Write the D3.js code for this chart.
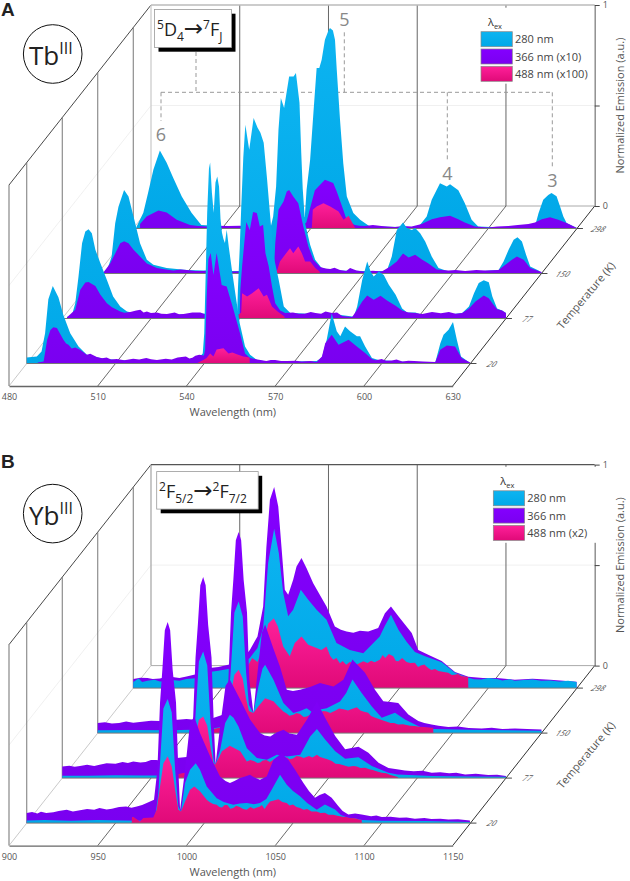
<!DOCTYPE html>
<html lang="en">
<head>
<meta charset="UTF-8">
<title>Tb and Yb emission</title>
<script src="https://d3js.org/d3.v7.min.js"></script>
<style>
  html, body { margin: 0; padding: 0; background: #fff; }
  svg { display: block; font-family: "Open Sans", sans-serif; }
</style>
</head>
<body>
<svg width="630" height="881"></svg>
<script>
// temperatures, back row first
const temps = ["298", "150", "77", "20"];

const tbTicks = [480, 510, 540, 570, 600, 630];
const ybTicks = [900, 950, 1000, 1050, 1100, 1150];

// Tb panel: [wavelength, normalized emission]
const tb20_280 = [[480,.03],[483.4,.035],[485,.06],[486.2,.15],[487.3,.32],[488.8,.386],[490.7,.33],[492.4,.24],[494.7,.15],[497.5,.085],[500.3,.043],[504.8,.027],[510.4,.018],[520,.012],[530,.015],[535,.02],[538,.025],[539.5,.05],[540,.15],[540.5,.45],[541,.75],[541.6,.97],[542,1],[542.6,.85],[543.2,.75],[543.8,.9],[544.4,.93],[545,.88],[545.5,.72],[546,.65],[546.5,.62],[547,.6],[547.6,.665],[548.3,.58],[549.5,.45],[550.5,.35],[552,.2],[553.8,.085],[555.5,.043],[557.8,.018],[560,.012],[570,.01],[578,.012],[579.8,.03],[581.4,.118],[583.1,.25],[584.8,.16],[586,.135],[587.6,.184],[589.3,.16],[591.6,.135],[592.7,.135],[594.4,.085],[596.7,.027],[598.9,.018],[610,.006],[618.1,.005],[619.8,.1],[620.9,.143],[622.6,.168],[624.1,.206],[625.4,.118],[626.8,.035],[629.9,.002]];
const tb20_366 = [[483.7,.005],[485.7,.01],[486.9,.118],[488,.167],[489,.18],[490.2,.176],[492.4,.118],[493.3,.1],[494.1,.093],[495.2,.075],[496.4,.08],[498,.068],[500.3,.043],[501.5,.048],[503.7,.032],[505.5,.026],[507,.03],[508.5,.02],[510.4,.022],[513,.016],[516,.024],[518,.02],[520.4,.027],[522,.021],[524,.018],[527,.024],[529,.02],[531,.03],[533.8,.035],[535,.025],[536,.028],[537,.038],[538.3,.043],[539.9,.04],[540.3,.07],[540.8,.32],[541.4,.52],[542.2,.55],[543.1,.44],[544.2,.55],[545.9,.39],[547.6,.383],[549.9,.267],[552.1,.15],[553.8,.05],[555.5,.027],[558,.02],[559.5,.016],[561,.013],[562.5,.018],[564,.018],[566,.012],[568,.012],[571,.014],[573,.01],[576,.012],[578,.008],[579.8,.035],[580.9,.101],[583.1,.143],[585.4,.093],[588.8,.118],[591.6,.085],[594.4,.052],[596.7,.022],[598,.016],[600,.022],[601.5,.014],[603.4,.015],[605,.02],[607,.01],[609,.014],[611,.012],[614,.01],[618.1,.007],[619.8,.068],[622,.09],[624.8,.085],[627,.027],[629.9,.005]];
const tb20_488 = [[537.5,0],[538,.005],[539.7,.018],[540.8,.027],[542,.05],[543.1,.035],[544.2,.07],[546.5,.076],[548.2,.05],[549.5,.055],[551,.046],[553.2,.035],[555.3,.03],[555.4,0]];

const tb77_280 = [[481.6,.008],[483.3,.018],[484.4,.076],[485.5,.209],[486.7,.375],[487.8,.433],[488.9,.444],[490,.424],[491.2,.342],[492.9,.275],[495.1,.192],[497.2,.11],[499.6,.06],[501.9,.035],[504.1,.027],[507.5,.018],[512,.02],[521,.02],[527,.025],[535,.02],[539.1,.01],[539.4,.15],[540,.35],[540.5,.55],[541.2,.8],[541.9,.964],[543.2,.84],[544.7,.997],[546,.95],[547,.924],[548.1,.874],[549.2,.7],[550.4,.49],[551.5,.308],[553.2,.19],[554.9,.06],[557.1,.027],[565.6,.022],[572.9,.02],[578,.01],[578.6,.01],[579.7,.06],[581.4,.192],[583.1,.284],[584.2,.235],[585.3,.209],[587,.234],[588.7,.217],[590.4,.168],[592.7,.118],[594.9,.05],[596.6,.03],[599.4,.03],[601.7,.018],[610.7,.02],[615.2,.027],[617.5,.06],[619.2,.126],[620.8,.176],[622.5,.19],[624.2,.18],[625.4,.11],[627,.05],[628.7,.04],[630,.027]];
const tb77_366 = [[481.6,.006],[484.4,.043],[486.1,.143],[487.8,.179],[488.9,.181],[491.2,.162],[492.9,.118],[495.1,.076],[496.8,.056],[499.6,.035],[501,.028],[503,.032],[505,.04],[506.4,.043],[507.5,.03],[508.6,.035],[510,.027],[512,.03],[513.5,.024],[515.4,.023],[518,.03],[519.5,.021],[521,.023],[524,.03],[526.7,.03],[528,.022],[530,.02],[532,.026],[534,.032],[536,.024],[538,.022],[540,.02],[540.2,.143],[540.8,.26],[542.2,.48],[543.4,.44],[544.5,.53],[545.8,.525],[546.8,.458],[547.9,.466],[548.7,.325],[549.8,.26],[550.9,.16],[552,.076],[553.7,.04],[555.4,.027],[558,.03],[560,.024],[562,.024],[564,.032],[565.6,.027],[567.5,.024],[569,.035],[571.2,.027],[572.9,.03],[574.6,.013],[578,.007],[579.7,.043],[581.4,.085],[583.1,.114],[585.3,.093],[587.6,.113],[589.8,.09],[592.7,.063],[594.9,.04],[597,.03],[599.4,.027],[601.7,.023],[605,.032],[608,.026],[610.7,.032],[613,.024],[615.2,.027],[617.5,.05],[619.7,.085],[622.5,.114],[624.2,.101],[625.4,.076],[627,.046],[628.7,.04],[630,.027]];
const tb77_488 = [[538,0],[539,.01],[540.5,.03],[540.8,.126],[542.5,.11],[544.2,.126],[546.4,.15],[548.1,.11],[549.2,.118],[550.9,.06],[552.8,.035],[555.1,.01],[555.2,0]];

const tb150_280 = [[481.9,.005],[483,.01],[484.7,.085],[485.9,.25],[487,.332],[488.9,.416],[490.4,.383],[492.1,.283],[494.3,.15],[496.6,.068],[498.8,.043],[503.3,.027],[510.1,.018],[515.7,.015],[525,.012],[535,.012],[539.3,.284],[540.3,.433],[541.1,.715],[541.9,.873],[543,.823],[544.7,.98],[546.2,.98],[547,.997],[548.2,.85],[548.8,.6],[549.3,.42],[550.1,.25],[551.8,.143],[553.5,.068],[555.7,.027],[560,.015],[570,.012],[577.7,.013],[579.4,.085],[581.1,.217],[583.2,.254],[584.5,.226],[586.2,.217],[587.3,.226],[589,.2],[590.7,.159],[592.9,.085],[595.2,.027],[598.6,.01],[605,.008],[615.5,.018],[617.2,.06],[618.9,.118],[620.6,.168],[621.9,.18],[623.4,.159],[624.8,.093],[626.2,.035],[629,.015],[630,.005]];
const tb150_366 = [[481.9,.005],[484.2,.05],[485.9,.1],[487.6,.15],[488.9,.16],[490.4,.15],[492.1,.118],[494.3,.085],[496.6,.05],[500,.027],[503,.02],[505.6,.015],[508,.02],[510.1,.018],[513,.012],[515.7,.013],[519,.017],[522,.015],[526,.01],[530,.012],[533,.016],[536,.014],[539.6,.018],[540,.15],[541.1,.317],[542.8,.358],[543.9,.408],[544.7,.416],[546.1,.383],[547.8,.35],[549.5,.234],[551.2,.134],[552.9,.068],[555.2,.032],[557,.025],[558.6,.022],[560,.028],[561.9,.018],[564,.012],[565.3,.027],[567.5,.015],[569.8,.01],[573,.014],[576,.01],[578.9,.035],[581.1,.06],[583.2,.1],[585.1,.08],[587.3,.093],[589.6,.07],[591.8,.05],[594.6,.02],[598.6,.015],[601,.018],[604.2,.013],[608,.017],[611,.015],[615.5,.018],[617.8,.043],[620,.068],[621.7,.085],[624,.068],[626.2,.027],[630,.008]];
const tb150_488 = [[539,0],[540.7,.018],[541.6,.06],[543.3,.093],[545,.126],[546.1,.101],[547.8,.134],[549,.101],[550.1,.06],[551.8,.06],[553.5,.027],[555,.01],[555.1,0]];

const tb298_280 = [[481,.005],[483.4,.078],[485,.177],[486.8,.292],[489,.388],[491.3,.327],[493.5,.252],[496.4,.159],[499.7,.078],[503,.018],[510,.012],[525,.01],[535,.012],[538,.06],[538.6,.193],[539.8,.342],[540.9,.574],[542,.798],[542.9,.798],[543.7,.839],[544.8,.939],[546,.985],[546.5,.997],[547.5,.985],[548.2,.939],[548.8,.79],[549.9,.541],[551,.325],[552.2,.159],[554.4,.077],[556.7,.043],[560,.01],[570,.008],[575,.006],[576.9,.018],[579.2,.06],[580.9,.143],[583.7,.225],[586,.209],[587.1,.22],[589.9,.19],[592.1,.126],[594.4,.043],[596.6,.01],[605,.005],[615.8,.01],[617,.076],[618.6,.143],[620.3,.167],[621.4,.176],[623.1,.16],[624.3,.11],[625.4,.06],[626.5,.027],[630,.003]];
const tb298_366 = [[482.3,.023],[484.5,.06],[488.5,.09],[491.3,.08],[494.7,.043],[499.2,.018],[502,.012],[505,.01],[508,.014],[512,.012],[516,.014],[520,.008],[525,.012],[530,.01],[534,.014],[537,.01],[538.5,.03],[541.4,.19],[544.8,.242],[547.6,.226],[548.8,.184],[551,.093],[552.2,.04],[554.9,.018],[556.5,.014],[558.3,.013],[561,.017],[563.9,.013],[566,.01],[568.5,.007],[571,.012],[574.1,.01],[577.5,.023],[580.9,.046],[583.7,.056],[587.1,.063],[589.9,.046],[592.1,.03],[595.5,.01],[600,.005],[603,.01],[606.8,.013],[610,.017],[613.6,.023],[615.8,.03],[618.1,.046],[620.9,.056],[623.7,.043],[626.5,.027],[630,.003]];
const tb298_488 = [[540.3,0],[540.4,.01],[540.7,.093],[542,.11],[544.3,.126],[546.6,.11],[549.4,.085],[551.1,.043],[552.8,.063],[555,.002],[555.1,0]];

// Yb panel
const yb20_280 = [[900,.013],[910,.015],[925,.012],[940,.015],[955,.013],[965,.012],[972.3,.025],[974.2,.15],[975.1,.3],[977,.57],[979.4,.617],[981.7,.55],[983.6,.265],[985.4,.083],[986.9,.058],[989.2,.199],[992,.265],[995.2,.298],[997.6,.265],[1001.4,.182],[1007,.124],[1011,.105],[1016.4,.091],[1020,.098],[1024,.1],[1028,.094],[1031.4,.1],[1035,.12],[1038,.166],[1042.7,.24],[1046.5,.191],[1050,.16],[1054,.133],[1058,.1],[1063.4,.066],[1068,.093],[1073.7,.068],[1077,.04],[1081,.027],[1085,.024],[1088.7,.015],[1100,.012],[1125,.01],[1149.7,.005]];
const yb20_366 = [[900,.05],[903,.055],[906,.048],[908,.056],[911,.05],[915,.054],[918,.06],[922.5,.066],[926,.058],[930,.064],[934,.07],[938,.066],[941,.075],[945,.068],[948,.071],[952,.08],[956,.083],[959,.076],[962,.082],[965,.09],[967.6,.1],[971.7,.116],[973.6,.265],[975.1,.6],[976.4,.763],[977.8,.96],[979.4,1],[980.8,.96],[982.2,.763],[984.1,.6],[985.4,.265],[986.4,.066],[989.2,.265],[992,.497],[994.4,.53],[997.6,.448],[1003.3,.332],[1008.9,.232],[1012,.21],[1014.5,.199],[1017,.21],[1020.2,.224],[1023,.232],[1025.8,.241],[1028,.228],[1031.4,.216],[1035.2,.232],[1039,.315],[1043.6,.348],[1047.4,.315],[1051.2,.265],[1055.9,.199],[1059,.16],[1062.4,.126],[1065,.14],[1068,.15],[1071.8,.126],[1075.5,.085],[1078,.06],[1081.2,.043],[1085,.048],[1088.7,.043],[1094,.034],[1097,.038],[1100,.03],[1105,.032],[1110,.026],[1114,.028],[1118.7,.022],[1124,.025],[1128,.021],[1133,.022],[1137.5,.018],[1143,.019],[1149.7,.013]];
const yb20_488 = [[959.1,0],[959.3,.03],[960.1,.03],[963.8,.008],[965.7,.025],[971.3,.028],[973.2,.066],[975.1,.182],[977,.298],[979.4,.332],[981.7,.282],[983.6,.166],[985.4,.066],[986.9,.058],[989.2,.108],[992,.166],[994.4,.182],[997.6,.158],[1001.4,.116],[1003,.105],[1005,.095],[1007,.091],[1008.5,.08],[1010,.078],[1011.5,.09],[1013,.09],[1014.7,.072],[1016.4,.075],[1018,.086],[1020,.08],[1022,.07],[1023.9,.066],[1026,.08],[1028,.072],[1031.4,.083],[1032.5,.09],[1034,.07],[1035.5,.09],[1037.1,.108],[1041.8,.119],[1044,.105],[1046.5,.1],[1048,.088],[1050,.092],[1052,.08],[1054,.075],[1056,.066],[1058,.07],[1060.5,.058],[1063.4,.058],[1065.5,.05],[1068,.052],[1070,.042],[1072.8,.041],[1075,.036],[1078,.032],[1080,.03],[1082.1,.025],[1085,.024],[1087.8,.017],[1088.7,.017],[1088.8,0]];

const yb77_280 = [[900,.012],[915,.012],[930,.014],[945,.013],[960,.013],[970,.02],[973,.06],[975,.3],[977,.58],[979.4,.63],[981.7,.56],[983.6,.27],[985.2,.1],[986.2,.066],[989,.141],[991.8,.274],[994.4,.315],[996.5,.3],[999.3,.257],[1004,.149],[1009.7,.1],[1015.3,.091],[1020.9,.116],[1026.6,.108],[1034.1,.116],[1039.7,.207],[1043.5,.244],[1048.1,.192],[1053.8,.134],[1059.4,.096],[1066.9,.104],[1074.4,.06],[1083.8,.027],[1089,.018],[1108.2,.01],[1130,.008],[1150,.007]];
const yb77_366 = [[900,.058],[904,.062],[907,.056],[910,.06],[914,.066],[918,.06],[921,.066],[925,.074],[930,.072],[934,.08],[937,.075],[940,.083],[944,.077],[947,.08],[950,.09],[953,.09],[957,.085],[960,.092],[964.6,.1],[970,.105],[972,.12],[973.6,.265],[975.1,.6],[976.4,.763],[977.8,.96],[979.4,1],[980.8,.96],[982.2,.763],[984.1,.6],[985.4,.265],[986.4,.07],[989,.26],[992,.46],[994.4,.49],[1000.3,.39],[1005.9,.29],[1011.5,.224],[1014,.212],[1017.2,.207],[1021,.228],[1024.7,.24],[1028,.222],[1032.2,.216],[1037.8,.29],[1043.5,.38],[1048.1,.3],[1053.8,.209],[1059.4,.143],[1063,.15],[1066.9,.156],[1072.5,.126],[1078.2,.076],[1083.8,.05],[1089.5,.043],[1093,.038],[1098,.034],[1103,.036],[1108.2,.027],[1113,.029],[1118,.024],[1122,.026],[1127,.018],[1133,.022],[1140,.015],[1145,.017],[1150,.01]];
const yb77_488 = [[959,0],[959.2,.02],[964,.01],[965.5,.02],[971,.03],[973,.07],[975,.2],[977,.29],[979.4,.307],[981.7,.26],[983.6,.15],[985.2,.075],[986.2,.066],[990,.133],[994.4,.161],[1000.3,.133],[1004,.083],[1006,.09],[1008,.085],[1010,.075],[1011.5,.078],[1013,.088],[1015,.09],[1017,.08],[1019,.091],[1021,.102],[1023,.1],[1025,.09],[1026.6,.104],[1028,.094],[1030,.098],[1032,.11],[1034.1,.108],[1036,.1],[1039,.11],[1041,.102],[1043.5,.116],[1045,.106],[1047,.1],[1049,.095],[1051.9,.085],[1054,.072],[1056,.07],[1058.5,.064],[1061.3,.056],[1064,.06],[1066,.058],[1068,.05],[1070.7,.051],[1073,.044],[1075,.04],[1077.5,.033],[1080,.027],[1082.5,.024],[1085,.015],[1089,.005],[1089.2,0]];

const yb150_280 = [[900,.014],[920,.016],[940,.014],[960,.018],[970,.03],[973,.07],[975,.32],[977,.6],[979.4,.655],[981.7,.58],[983.6,.3],[985.2,.14],[987.7,.1],[990.5,.23],[992.8,.32],[994.3,.34],[999,.265],[1004.6,.15],[1010.2,.1],[1014,.11],[1017.7,.124],[1021.5,.1],[1025.2,.118],[1029,.124],[1036.5,.157],[1040,.2],[1043.5,.267],[1048.7,.2],[1054.3,.134],[1060,.076],[1067.5,.101],[1073.1,.068],[1082.5,.027],[1089,.02],[1116,.015],[1150,.012]];
const yb150_366 = [[900,.05],[904,.054],[908,.048],[912,.05],[916,.058],[920,.052],[925,.056],[930,.062],[935,.06],[940,.068],[945,.066],[950,.07],[955,.066],[960,.072],[965,.075],[970,.09],[972,.11],[973.6,.265],[975.1,.6],[976.4,.763],[977.8,.96],[979.4,1],[980.8,.96],[982.2,.763],[984.1,.6],[985.4,.265],[987.7,.1],[990,.3],[992.5,.5],[994.3,.54],[999,.42],[1002.7,.33],[1006.5,.216],[1010,.21],[1014,.216],[1020,.23],[1025.2,.249],[1032.8,.232],[1038.4,.265],[1043.5,.366],[1050.6,.3],[1056.2,.216],[1060.9,.158],[1065,.155],[1069.3,.15],[1075,.093],[1080.6,.06],[1084,.05],[1088.1,.043],[1092,.036],[1097.5,.03],[1103,.033],[1109,.025],[1116.3,.023],[1122,.027],[1128,.021],[1135.1,.023],[1142,.02],[1150,.018]];
const yb150_488 = [[959,0],[959.2,.02],[965,.02],[971,.03],[973,.08],[975,.2],[977,.29],[979.4,.315],[981.7,.27],[983.6,.17],[985.2,.11],[987.7,.1],[990.5,.134],[994.3,.174],[999,.158],[1002,.13],[1004.6,.108],[1006.5,.098],[1008,.086],[1010.2,.091],[1012,.1],[1014,.095],[1016,.08],[1017.7,.083],[1020,.092],[1023,.095],[1025,.1],[1027,.11],[1029,.108],[1031,.1],[1034,.112],[1036,.122],[1038.4,.119],[1041,.112],[1043.5,.121],[1046,.128],[1048,.112],[1050,.106],[1052.4,.101],[1054,.085],[1056,.078],[1058,.072],[1060,.065],[1062.5,.058],[1065,.05],[1067,.05],[1069.3,.043],[1072,.044],[1074,.04],[1076,.036],[1078.7,.035],[1081,.032],[1084,.03],[1088.1,.027],[1089,.027],[1089.1,0]];

const yb298_280 = [[900,.03],[903,.048],[905,.03],[908,.036],[912,.042],[915,.033],[918,.034],[922,.04],[926,.036],[930,.045],[937,.05],[943,.08],[948,.086],[953.5,.095],[960,.11],[965.7,.15],[970,.2],[973.2,.3],[976,.622],[979.4,.793],[982,.672],[984.5,.473],[987.3,.357],[990.1,.39],[994.4,.489],[998.6,.44],[1003.3,.39],[1008.9,.34],[1014.5,.224],[1022,.19],[1029.6,.174],[1038.9,.257],[1041.8,.31],[1045.2,.365],[1049.4,.29],[1054,.23],[1058.7,.18],[1064.4,.158],[1073.8,.129],[1081.3,.076],[1088.8,.051],[1092,.044],[1096,.043],[1100,.05],[1105,.045],[1108,.038],[1112,.044],[1115,.036],[1120,.04],[1125,.043],[1130,.036],[1135,.038],[1140,.033],[1145,.036],[1149.8,.03]];
const yb298_366 = [[900,.045],[904,.052],[908,.05],[911,.045],[915,.048],[919,.056],[922,.055],[926,.05],[930,.058],[936,.07],[943,.1],[948,.105],[953.5,.116],[960,.13],[965.7,.19],[970,.257],[973.2,.406],[975,.7],[977,.937],[979.4,1],[981.7,.904],[983.5,.705],[985.4,.489],[987.3,.464],[990.1,.539],[992,.605],[994.8,.647],[997.6,.597],[1001.4,.522],[1005.1,.464],[1008.9,.406],[1013.6,.307],[1017,.29],[1020.2,.282],[1024,.275],[1027.7,.285],[1032.4,.282],[1038,.299],[1041.8,.373],[1045.2,.406],[1049.4,.357],[1056.9,.274],[1060.6,.19],[1066.2,.166],[1073.8,.135],[1081.3,.08],[1088.8,.056],[1097,.05],[1105,.05],[1115,.042],[1125,.047],[1135,.042],[1149.8,.032]];
const yb298_488 = [[959,0],[959.2,.03],[964,.1],[967,.15],[970,.13],[973,.2],[976,.32],[979.2,.348],[981.5,.307],[984.5,.207],[988.2,.158],[991,.224],[994.8,.257],[998.6,.216],[1003.3,.2],[1006,.19],[1008.9,.207],[1011,.16],[1012.7,.141],[1014.5,.15],[1016.4,.124],[1018,.135],[1020,.116],[1022,.13],[1024,.125],[1026,.118],[1029.6,.133],[1032,.125],[1034,.136],[1036,.128],[1038.9,.141],[1040.5,.165],[1042,.15],[1044,.17],[1046.5,.158],[1048,.135],[1049.4,.134],[1051.5,.15],[1054,.13],[1056,.125],[1058.7,.126],[1060.5,.105],[1062,.112],[1064,.118],[1066.2,.1],[1068,.09],[1070,.095],[1072,.085],[1075,.08],[1077.5,.076],[1079.5,.065],[1081,.066],[1083,.07],[1085,.06],[1088.7,.055],[1088.8,0]];

const tbSeries = {
  "20":  { c: tb20_280,  p: tb20_366,  m: tb20_488 },
  "77":  { c: tb77_280,  p: tb77_366,  m: tb77_488 },
  "150": { c: tb150_280, p: tb150_366, m: tb150_488 },
  "298": { c: tb298_280, p: tb298_366, m: tb298_488 }
};
const ybSeries = {
  "20":  { c: yb20_280,  p: yb20_366,  m: yb20_488 },
  "77":  { c: yb77_280,  p: yb77_366,  m: yb77_488 },
  "150": { c: yb150_280, p: yb150_366, m: yb150_488 },
  "298": { c: yb298_280, p: yb298_366, m: yb298_488 }
};

const tbLegend = ["280 nm", "366 nm (x10)", "488 nm (x100)"];
const ybLegend = ["280 nm", "366 nm", "488 nm (x2)"];

const svg = d3.select("svg");
const defs = svg.append("defs");

function gradient(id, top, bottom) {
  const g = defs.append("linearGradient").attr("id", id)
    .attr("x1", 0).attr("y1", 0).attr("x2", 0).attr("y2", 1);
  g.append("stop").attr("offset", 0).attr("stop-color", top);
  g.append("stop").attr("offset", 1).attr("stop-color", bottom);
}
gradient("gc", "#0DB4F1", "#00A8E8");
gradient("gp", "#8400FF", "#7A00F0");
gradient("gm", "#FF209A", "#E00A78");
const fills = { c: "url(#gc)", p: "url(#gp)", m: "url(#gm)" };

const textCol = "#555";

// geometry shared by both panels
const x0 = 9, x1 = 452.7, floorY = 386;
const depthX = 142, depthY = 180, wallH = 201;

function panel(opts) {
  const g = svg.append("g").attr("transform", `translate(0,${opts.top})`);
  const dom = d3.extent(opts.ticks);
  const x = d3.scaleLinear().domain(dom).range([x0, x1]);
  const zBand = d3.scaleBand().domain(temps).range([1, 0]);
  const z = t => zBand(t) + zBand.bandwidth() / 2;
  const backY = floorY - depthY;
  const y = d3.scaleLinear().domain([0, 1]).range([backY, backY - wallH]);
  const h = v => backY - y(v);
  const topY = y(1);
  const line = (a, b, c, d, col, w) => g.append("line")
    .attr("x1", a).attr("y1", b).attr("x2", c).attr("y2", d)
    .attr("stroke", col).attr("stroke-width", w);

  // mid level guides
  line(x0, floorY - wallH / 2, x0 + depthX, y(0.5), "#ececec", 0.8);
  line(x0 + depthX, y(0.5), x1 + depthX, y(0.5), "#ececec", 0.8);

  // floor
  line(x0, floorY, x0 + depthX, backY, "#bbb", 0.8);
  line(x0 + depthX, backY, x1 + depthX, backY, "#aaa", 1);
  opts.ticks.slice(1, -1).forEach(t => line(x(t), floorY, x(t) + depthX, backY, "#444", 0.8));
  line(x1, floorY, x1 + depthX, backY, "#333", 1);

  // left wall
  line(x0, floorY, x0, floorY - wallH, "#888", 1.2);
  line(x0, floorY - wallH, x0 + depthX, topY, "#333", 0.9);
  temps.forEach(t => {
    const px = x0 + z(t) * depthX, py = floorY - z(t) * depthY;
    line(px, py, px, py - wallH, "#777", 1);
  });

  // back wall
  line(x0 + depthX, backY, x0 + depthX, topY, opts.cornerCol, 1.3);
  opts.ticks.slice(1, -1).forEach(t => line(x(t) + depthX, backY, x(t) + depthX, topY, "#666", 1));
  line(x0 + depthX, topY, x1 + depthX, topY, opts.topCol, 1.3);

  // front axis
  const ax = g.append("g").attr("transform", `translate(0,${floorY})`)
    .call(d3.axisBottom(x).tickValues(opts.ticks).tickSize(0).tickPadding(8).tickFormat(d => d));
  ax.select(".domain").attr("stroke", "#666").attr("stroke-width", 1.4);
  ax.selectAll("text").attr("fill", textCol).attr("font-size", 9).attr("font-family", "Open Sans");

  // intensity axis on the back wall
  const ay = g.append("g").attr("transform", `translate(${x1 + depthX},0)`)
    .call(d3.axisRight(y).tickValues([0, 0.5, 1]).tickSize(5).tickSizeOuter(0).tickPadding(3)
      .tickFormat(v => v === 0.5 ? "" : v));
  ay.select(".domain").attr("stroke", "#888").attr("stroke-width", 1.4);
  ay.selectAll("line").attr("stroke", "#444");
  ay.selectAll("text").attr("fill", textCol).attr("font-size", 9).attr("font-family", "Open Sans");

  if (opts.extras) opts.extras(g);

  // ribbons, back to front
  const mark = (data, key, dx, base) => {
    const area = d3.area()
      .x(d => x(d[0]) + dx)
      .y0(base)
      .y1(d => base - h(d[1]));
    g.append("path").attr("d", area(data)).attr("fill", fills[key]);
  };
  temps.forEach(t => {
    const dx = z(t) * depthX, base = floorY - z(t) * depthY;
    opts.order.forEach(k => mark(opts.series[t][k], k, dx, base));
    line(x0 + dx, base, x1 + dx, base, "#777", 1);
    line(x1 + dx, base, x1 + dx + 6, base, "#333", 0.9);
    g.append("text")
      .attr("transform", `translate(${x1 + dx + 20},${base + 3}) skewX(-28)`)
      .attr("text-anchor", "middle")
      .attr("font-size", 8).attr("font-style", "italic").attr("fill", textCol)
      .text(t);
  });

  // titles
  g.append("text").attr("x", (x0 + x1) / 2 + 2).attr("y", floorY + 30)
    .attr("text-anchor", "middle").attr("font-size", 11).attr("fill", textCol)
    .text("Wavelength (nm)");
  g.append("text").attr("transform", `translate(624,${(topY + backY) / 2}) rotate(-90)`)
    .attr("text-anchor", "middle").attr("font-size", 11).attr("fill", textCol)
    .text("Normalized Emission (a.u.)");
  g.append("text").attr("transform", `translate(589,${floorY - 88}) rotate(-50)`)
    .attr("text-anchor", "middle").attr("font-size", 11).attr("fill", textCol)
    .text("Temperature (K)");

  // ion label
  g.append("circle").attr("cx", 52.7).attr("cy", 54).attr("r", 29.3)
    .attr("fill", "#fff").attr("stroke", "#111").attr("stroke-width", 1);
  const ion = g.append("text").attr("x", 29).attr("y", 65).attr("font-size", 26).attr("fill", "#222");
  ion.append("tspan").text(opts.ion);
  ion.append("tspan").attr("dy", -11).attr("font-size", 16).text("III");

  g.append("text").attr("x", 1).attr("y", opts.letterY)
    .attr("font-family", "Liberation Sans").attr("font-weight", "bold").attr("font-size", 19)
    .attr("fill", "#222").text(opts.letter);

  // legend
  const lx = opts.legendX, ly = opts.legendY;
  g.append("rect").attr("x", lx - 2).attr("y", ly - 24).attr("width", 112).attr("height", 76).attr("fill", "#fff");
  const lam = g.append("text").attr("x", lx + 7).attr("y", ly - 6).attr("font-size", 11).attr("fill", "#333");
  lam.append("tspan").text("λ");
  lam.append("tspan").attr("dy", 3).attr("font-size", 7.5).text("ex");
  ["c", "p", "m"].forEach((k, i) => {
    g.append("rect").attr("x", lx).attr("y", ly + i * 17.3).attr("width", 31.3).attr("height", 15)
      .attr("fill", fills[k]).attr("stroke", "#888").attr("stroke-width", 0.7);
    g.append("text").attr("x", lx + 34).attr("y", ly + i * 17.3 + 11.5)
      .attr("font-size", 11).attr("fill", "#444").text(opts.legend[i]);
  });
  return g;
}

// state label box with superscripts and subscripts
function stateBox(g, bx, by, bw, bh, parts, tx, ty) {
  g.append("rect").attr("x", bx + 4).attr("y", by + 4.2).attr("width", bw).attr("height", bh).attr("fill", "#000");
  g.append("rect").attr("x", bx).attr("y", by).attr("width", bw).attr("height", bh)
    .attr("fill", "#fff").attr("stroke", "#999").attr("stroke-width", 0.8);
  const t = g.append("text").attr("x", tx).attr("y", ty).attr("font-size", 18).attr("fill", "#222");
  let shift = 0;
  parts.forEach(([s, kind]) => {
    const want = kind === "sup" ? -7 : kind === "sub" ? 5 : 0;
    const sp = t.append("tspan").attr("dy", want - shift)
      .attr("font-size", kind === "arrow" ? 23 : kind ? 12 : 18).text(s);
    if (kind === "arrow") sp.attr("font-family", "DejaVu Sans");
    shift = want;
  });
}

// Tb panel annotations, behind the ribbons
const tbBandLabels = ["6", "5", "4", "3"];

function tbExtras(g) {
  const dash = (a, b, c, d) => g.append("line").attr("x1", a).attr("y1", b).attr("x2", c).attr("y2", d)
    .attr("stroke", "#999").attr("stroke-width", 1).attr("stroke-dasharray", "4,3");
  dash(161, 92.3, 553, 92.3);
  dash(196, 52, 196, 92.3);
  dash(161, 92.3, 161, 121);
  dash(344.3, 92.3, 344.3, 31);
  dash(447.3, 92.3, 447.3, 160);
  dash(552.3, 92.3, 552.3, 167);
  [[161, 141], [344.3, 26], [447.3, 180], [552.3, 187]].forEach((p, i) => {
    g.append("text").attr("x", p[0]).attr("y", p[1]).attr("text-anchor", "middle")
      .attr("font-size", 18).attr("fill", "#888").text(tbBandLabels[i]);
  });
}

const gA = panel({
  top: 0, ticks: tbTicks, series: tbSeries, order: ["c", "p", "m"], ion: "Tb", letter: "A", letterY: 16,
  legend: tbLegend, legendX: 481, legendY: 31.7, cornerCol: "#ccc", topCol: "#bbb", extras: tbExtras
});
stateBox(gA, 154.5, 9.5, 77, 38,
  [["5", "sup"], ["D", ""], ["4", "sub"], ["→", "arrow"], ["7", "sup"], ["F", ""], ["J", "sub"]], 157, 36);

const gB = panel({
  top: 459.6, ticks: ybTicks, series: ybSeries, order: ["p", "c", "m"], ion: "Yb", letter: "B", letterY: 8,
  legend: ybLegend, legendX: 493.3, legendY: 31.2, cornerCol: "#aaa", topCol: "#555"
});
stateBox(gB, 156.7, 12, 101.5, 37.5,
  [["2", "sup"], ["F", ""], ["5/2", "sub"], ["→", "arrow"], ["2", "sup"], ["F", ""], ["7/2", "sub"]], 159, 38);
</script>
</body>
</html>
